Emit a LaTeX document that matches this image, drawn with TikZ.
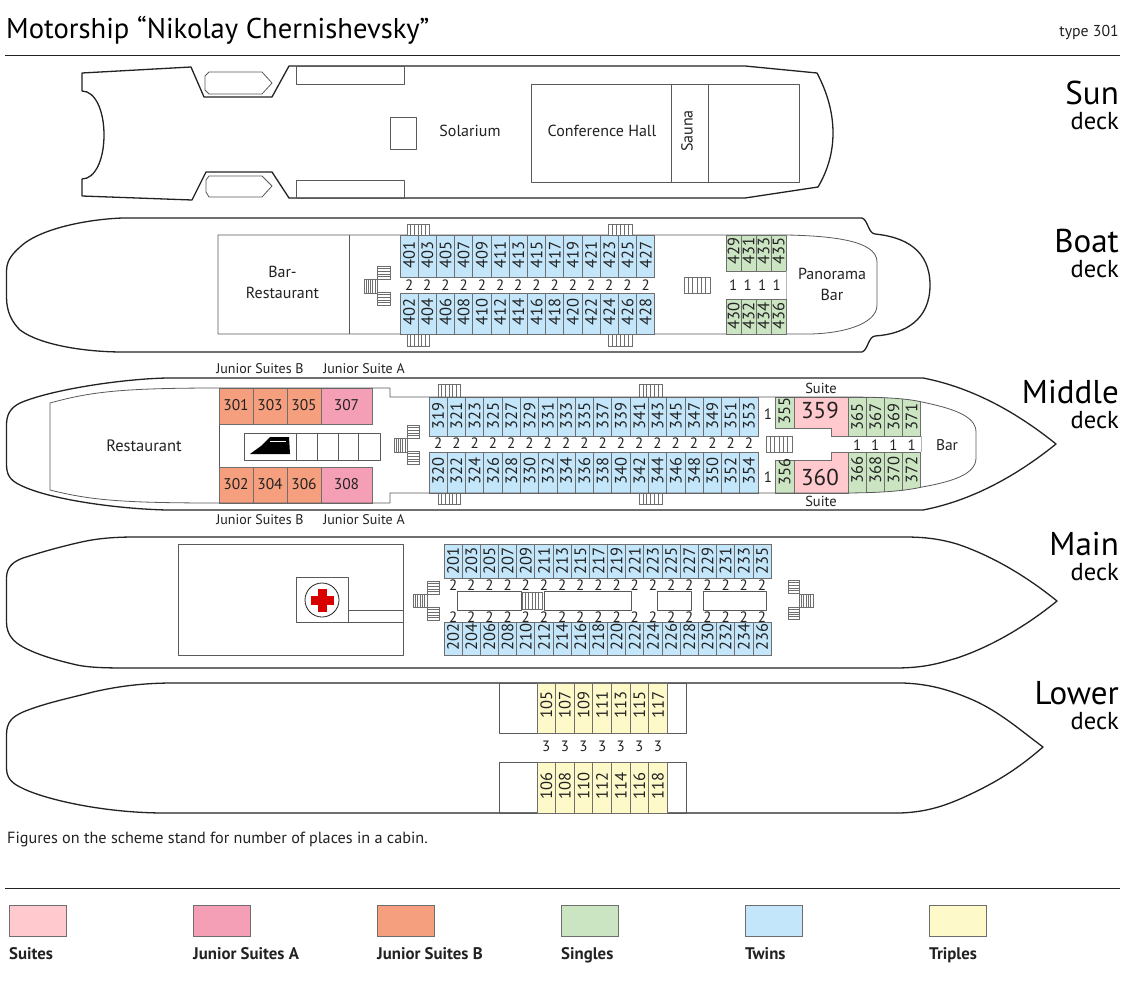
\documentclass[tikz,border=0pt]{standalone}
\usepackage{fontspec}
\setmainfont{PT Sans}
\definecolor{cSuite}{HTML}{FFC9CE}
\definecolor{cJA}{HTML}{F49FB5}
\definecolor{cJB}{HTML}{F59F7F}
\definecolor{cSingle}{HTML}{CBE5C3}
\definecolor{cTwin}{HTML}{C3E6FB}
\definecolor{cTriple}{HTML}{FDF9C9}
\definecolor{cEdge}{HTML}{6E6E6E}
\definecolor{cInk}{HTML}{222222}
\newcommand\fs[1]{\fontsize{#1}{#1}\selectfont}
\tikzset{
  x=1pt,y=-1pt,
  hull/.style={draw=cInk,line width=1.3pt,fill=white,line join=round},
  wall/.style={draw=cInk!75,line width=.8pt,line join=round},
  cabin/.style={draw=cEdge,line width=.8pt},
  treadbox/.style={draw=cEdge,line width=.6pt,fill=white},
  tread/.style={draw=cEdge,line width=.6pt},
  label/.style={text=cInk,inner sep=0pt,font=\fs{16}},
  num/.style={text=cInk,inner sep=0pt,rotate=90,font=\fs{16.5}},
  places/.style={text=cInk,inner sep=0pt,font=\fs{15}},
  big/.style={text=black,inner sep=0pt,font=\fs{33}},
  small/.style={text=black,inner sep=0pt,font=\fs{24.5}},
  legendbox/.style={draw=cEdge,line width=.8pt},
  legendtext/.style={text=cInk,inner sep=0pt,anchor=base west,font=\bfseries\fs{16.8}}
}
% x0, width, ytop, ybottom, ytext, first number, count, colour
\newcommand\cabinrow[8]{%
  \foreach \i in {1,...,#7}{%
    \pgfmathsetmacro\xa{#1+(\i-1)*#2}%
    \pgfmathsetmacro\xb{#1+\i*#2}%
    \pgfmathsetmacro\xc{#1+(\i-.5)*#2}%
    \pgfmathtruncatemacro\nn{#6+2*(\i-1)}%
    \draw[cabin,fill=#8] (\xa,#3) rectangle (\xb,#4);
    \node[num] (c\nn) at (\xc,#5) {\nn};
  }}
% x0, width, y, count, text
\newcommand\placerow[5]{%
  \foreach \i in {1,...,#4}{%
    \pgfmathsetmacro\xc{#1+(\i-.5)*#2}%
    \node[places] at (\xc,#3) {#5};
  }}
% stairs with vertical / horizontal treads
\newcommand\stairV[4]{%
  \draw[treadbox] (#1,#2) rectangle (#3,#4);
  \pgfmathsetmacro\st{(#3-#1)/6}%
  \foreach \k in {1,...,5}{\pgfmathsetmacro\xx{#1+\k*\st}\draw[tread] (\xx,#2) -- (\xx,#4);}}
\newcommand\stairH[4]{%
  \draw[treadbox] (#1,#2) rectangle (#3,#4);
  \pgfmathsetmacro\st{(#4-#2)/5}%
  \foreach \k in {1,...,4}{\pgfmathsetmacro\yy{#2+\k*\st}\draw[tread] (#1,\yy) -- (#3,\yy);}}
\begin{document}
\begin{tikzpicture}
\useasboundingbox (0,0) rectangle (1126,982);
\fill[white] (0,0) rectangle (1126,982);
% header
\node[text=black,inner sep=0pt,anchor=base west,font=\fs{28.6}] (title) at (6,39) {Motorship “Nikolay Chernishevsky”};
\node[text=cInk,inner sep=0pt,anchor=base east,font=\fs{15.8}] (type) at (1119,37) {type 301};
\draw[cInk,line width=.8pt] (5,55.5) -- (1120,55.5);
% deck names
\node[big,anchor=base east] (dSun) at (1119,104) {Sun};
\node[small,anchor=base east] (dSunb) at (1119,129) {deck};
\node[big,anchor=base east] (dBoat) at (1119,252) {Boat};
\node[small,anchor=base east] (dBoatb) at (1119,277) {deck};
\node[big,anchor=base east] (dMid) at (1119,403) {Middle};
\node[small,anchor=base east] (dMidb) at (1119,428) {deck};
\node[big,anchor=base east] (dMain) at (1119,555) {Main};
\node[small,anchor=base east] (dMainb) at (1119,580) {deck};
\node[big,anchor=base east] (dLow) at (1119,704) {Lower};
\node[small,anchor=base east] (dLowb) at (1119,729) {deck};

%%% SUN DECK
\draw[hull] (82,73) -- (191,67) -- (204,97) -- (272,97) -- (289,66) -- (745,66) -- (817,73)
  .. controls (827,92) and (833,112) .. (833,133)
  .. controls (833,152) and (828,170) .. (818,187)
  -- (745,198) -- (289,198) -- (272,172) -- (206,172) -- (192,200) -- (82,196) -- (82,179)
  .. controls (95,179) and (104,160) .. (104,135)
  .. controls (104,110) and (95,91) .. (82,91) -- cycle;
\draw[wall] (209,72) -- (262,72) -- (272,83) -- (262,94) -- (209,94) -- (205,90) -- (205,76) -- cycle;
\draw[wall] (209,176) -- (262,176) -- (272,186) -- (262,197) -- (209,197) -- (206,192) -- (206,180) -- cycle;
\draw[wall] (296,66) rectangle (404,84);
\draw[wall] (296,180) rectangle (404,198);
\draw[wall] (390,117) rectangle (416,149);
\draw[wall] (531,84) rectangle (799,182);
\draw[wall] (671,84) -- (671,182) (708,84) -- (708,182);
\node[label] (solarium) at (470,131) {Solarium};
\node[label] (confhall) at (602,131) {Conference Hall};
\node[label,rotate=90] (sauna) at (687,131) {Sauna};

%%% BOAT DECK
\draw[hull] (123,218) -- (862,218) .. controls (868,220) and (868,233) .. (875,234)
  .. controls (905,237) and (930,250) .. (930,285)
  .. controls (930,320) and (905,334) .. (875,336)
  .. controls (868,337) and (868,350) .. (862,352) -- (123,352)
  .. controls (85,352) and (40,345) .. (20,330)
  .. controls (12,322) and (6.5,312) .. (6.5,297) -- (6.5,272)
  .. controls (6.5,262) and (10,256) .. (20,247)
  .. controls (40,228) and (90,219) .. (123,218) -- cycle;
\draw[wall] (218,235) -- (787,235) .. controls (830,236) and (877,240) .. (877,262)
  -- (877,305) .. controls (877,325) and (840,334) .. (807,334) -- (218,334) -- cycle;
\draw[wall] (349,235) -- (349,334);
\node[label] (barrest) at (282.5,285) {\begin{tabular}{@{}c@{}}Bar-\\[4.5pt]Restaurant\end{tabular}};
\node[label] (panbar) at (832,287) {\begin{tabular}{@{}c@{}}Panorama\\[4.5pt]Bar\end{tabular}};
\stairV{407}{224}{429}{235} \stairV{608}{224}{632}{235}
\stairV{407}{334}{429}{346} \stairV{608}{334}{632}{346}
\stairV{684}{277}{710}{293}
\stairV{364}{279}{377}{293} \stairH{377}{266}{390}{279} \stairH{377}{292}{390}{305}
\cabinrow{400}{18.2}{235}{277}{255}{401}{14}{cTwin}
\cabinrow{400}{18.2}{293}{334}{312}{402}{14}{cTwin}
\placerow{400}{18.2}{285}{14}{2}
\cabinrow{726}{15}{235}{271}{251}{429}{4}{cSingle}
\cabinrow{726}{15}{299}{334}{316}{430}{4}{cSingle}
\placerow{726}{14.5}{285}{4}{1}
\draw[cabin,draw=cEdge!50] (786,271) -- (786,299);

%%% MIDDLE DECK
\draw[hull] (167,378) -- (923,378) .. controls (975,388) and (1020,415) .. (1056,444)
  .. controls (1020,473) and (975,500) .. (923,510) -- (167,510)
  .. controls (120,509) and (50,500) .. (20,485)
  .. controls (10,480) and (6.5,475) .. (6.5,464) -- (6.5,425)
  .. controls (6.5,415) and (10,408) .. (20,403)
  .. controls (50,390) and (120,379) .. (167,378) -- cycle;
\draw[wall] (219,424) -- (219,467);
% junior suites
\foreach \xa/\xb/\cc/\nt/\nb in {219/253/cJB/301/302,253/287/cJB/303/304,287/321/cJB/305/306,321/372/cJA/307/308}{
  \draw[cabin,fill=\cc] (\xa,388) rectangle (\xb,424);
  \draw[cabin,fill=\cc] (\xa,467) rectangle (\xb,503);
  \pgfmathsetmacro\xm{(\xa+\xb)/2}
  \node[text=cInk,inner sep=0pt,font=\fs{15.5}] (c\nt) at (\xm,405) {\nt};
  \node[text=cInk,inner sep=0pt,font=\fs{15.5}] (c\nb) at (\xm,484) {\nb};
}
\node[label,font=\fs{14}] (jsb1) at (260,369) {Junior Suites B};
\node[label,font=\fs{14}] (jsa1) at (364,369) {Junior Suite A};
\node[label,font=\fs{14}] (jsb2) at (260,520) {Junior Suites B};
\node[label,font=\fs{14}] (jsa2) at (364,520) {Junior Suite A};
\node[label,font=\fs{16.5}] (rest) at (144,446) {Restaurant};
% lift block
\draw[wall] (244,433) rectangle (380,460);
\draw[wall] (296,433) -- (296,460) (317,433) -- (317,460) (338,433) -- (338,460) (358,433) -- (358,460);
\fill[black] (250,454) -- (261,446) -- (270,437) -- (289,437) -- (290,454) -- cycle;
\fill[white] (270,440.5) rectangle (286,442);
\stairV{394}{438}{407}{452} \stairH{407}{425}{419}{438} \stairH{407}{451}{419}{464}
\stairV{438}{384}{460}{397} \stairV{639}{384}{662}{397}
\stairV{438}{493}{460}{504} \stairV{639}{493}{662}{504}
\stairV{766}{436}{792}{452}
\cabinrow{429}{18.28}{397}{436}{416}{319}{18}{cTwin}
\cabinrow{429}{18.28}{452}{493}{471}{320}{18}{cTwin}
\placerow{429}{18.28}{443}{18}{2}
\node[places] (s1a) at (768,414) {1};
\node[places] (s1b) at (768,477) {1};
\cabinrow{775}{19}{397}{428}{411}{355}{1}{cSingle}
\cabinrow{775}{19}{460}{493}{472}{356}{1}{cSingle}
\draw[cabin,fill=cSuite] (794,397) -- (848,397) -- (848,436) -- (831,436) -- (831,428) -- (794,428) -- cycle;
\draw[cabin,fill=cSuite] (794,493) -- (848,493) -- (848,452) -- (831,452) -- (831,460) -- (794,460) -- cycle;
\node[text=cInk,inner sep=0pt,font=\fs{23}] (c359) at (820,410) {359};
\node[text=cInk,inner sep=0pt,font=\fs{23}] (c360) at (820,477) {360};
\begin{scope}
\clip (840,397) .. controls (880,397) and (905,398) .. (922,402) -- (922,487) .. controls (905,491) and (880,493) .. (840,493) -- cycle;
\cabinrow{848}{18.2}{397}{436}{417}{365}{4}{cSingle}
\cabinrow{848}{18.2}{452}{493}{470}{366}{4}{cSingle}
\end{scope}
\draw[wall] (50,403) .. controls (90,392) and (120,388) .. (219,388) -- (390,388) -- (390,397)
  -- (840,397) .. controls (880,397) and (905,398) .. (922,402)
  .. controls (950,408) and (976,415) .. (976,432) -- (976,458)
  .. controls (976,475) and (950,482) .. (922,487)
  .. controls (905,491) and (880,493) .. (840,493) -- (390,493) -- (390,503) -- (219,503)
  .. controls (120,503) and (90,500) .. (50,490) -- cycle;
\placerow{848}{18.2}{445}{4}{1}
\draw[cabin,draw=cEdge!50] (921,436) -- (921,452);
\node[label,font=\fs{14.5}] (suite1) at (821,388) {Suite};
\node[label,font=\fs{14.5}] (suite2) at (821,501) {Suite};
\node[label,font=\fs{15.5}] (bar) at (947,445) {Bar};

%%% MAIN DECK
\draw[hull] (135,537) -- (905,537) .. controls (925,537) and (940,539) .. (957,544)
  .. controls (990,555) and (1025,575) .. (1057,601)
  .. controls (1025,627) and (990,647) .. (957,658)
  .. controls (940,663) and (925,668) .. (895,668) -- (135,668)
  .. controls (110,668) and (92,668) .. (77,665)
  .. controls (60,661) and (40,656) .. (23,647)
  .. controls (14,642) and (6.5,635) .. (6.5,622) -- (6.5,578)
  .. controls (6.5,568) and (12,562) .. (23,558)
  .. controls (45,551) and (60,547) .. (77,543)
  .. controls (90,540) and (105,537) .. (135,537) -- cycle;
\draw[wall] (178,544) rectangle (403,655);
\draw[wall] (296,577) rectangle (348,622);
\draw[wall] (348,610) -- (403,610) (348,622) -- (403,622);
\draw[cInk,line width=.8pt] (322,600) circle (17);
\fill[red!85!black] (318,589) rectangle (327,612);
\fill[red!85!black] (311,596) rectangle (334,605);
\stairV{413}{594}{427}{607} \stairH{427}{581}{439}{594} \stairH{427}{607}{439}{620}
\stairV{799}{594}{813}{607} \stairH{788}{580}{799}{593} \stairH{788}{607}{799}{619}
\cabinrow{444}{18.17}{544}{578}{561}{201}{18}{cTwin}
\cabinrow{444}{18.17}{622}{655}{637}{202}{18}{cTwin}
\placerow{444}{18.17}{585}{18}{2}
\placerow{444}{18.17}{617}{18}{2}
\draw[wall] (457,591) rectangle (521,610);
\draw[wall] (544,591) rectangle (631,610);
\draw[wall] (657,591) rectangle (691,610);
\draw[wall] (703,591) rectangle (766,610);
\stairV{522}{592}{542}{609}

%%% LOWER DECK
\draw[hull] (173,683) -- (903,683) .. controls (930,684) and (950,690) .. (973,700)
  .. controls (1000,712) and (1020,730) .. (1043,747)
  .. controls (1020,767) and (1000,780) .. (973,793)
  .. controls (950,804) and (930,812) .. (900,813) -- (165,813)
  .. controls (100,813) and (40,798) .. (20,787)
  .. controls (12,783) and (6.5,778) .. (6.5,768) -- (6.5,735)
  .. controls (6.5,722) and (12,717) .. (23,712)
  .. controls (45,703) and (70,698) .. (93,692)
  .. controls (115,687) and (140,683) .. (173,683) -- cycle;
\draw[wall] (499,683) rectangle (686,733);
\draw[wall] (499,762) rectangle (686,813);
\cabinrow{537}{18.6}{683}{733}{705}{105}{7}{cTriple}
\cabinrow{537}{18.6}{762}{813}{786}{106}{7}{cTriple}
\placerow{537}{18.6}{746}{7}{3}

%%% FOOT
\node[text=cInk,inner sep=0pt,anchor=base west,font=\fs{16.2}] (note) at (7,843) {Figures on the scheme stand for number of places in a cabin.};
\draw[cInk,line width=.8pt] (5,888.5) -- (1120,888.5);
\foreach \x/\cc/\txt in {9/cSuite/Suites,193/cJA/Junior Suites A,377/cJB/Junior Suites B,561/cSingle/Singles,745/cTwin/Twins,929/cTriple/Triples}{
  \pgfmathsetmacro\xe{\x+57}
  \draw[legendbox,fill=\cc] (\x,905) rectangle (\xe,936);
  \node[legendtext] at (\x,959) {\txt};
}
\end{tikzpicture}
\end{document}
